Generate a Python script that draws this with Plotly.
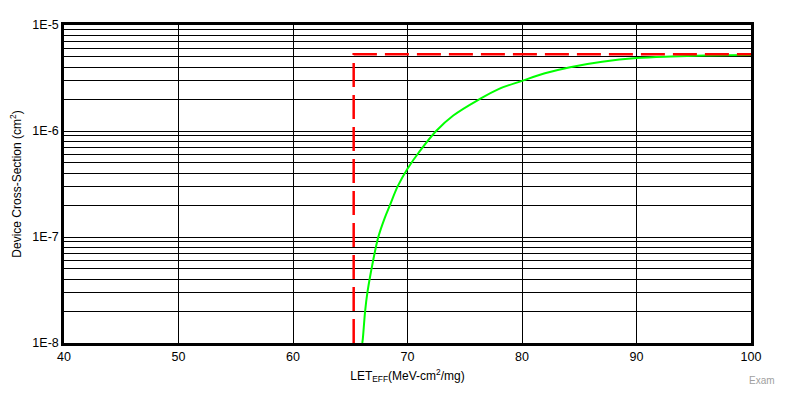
import plotly.graph_objects as go

# Data
weibull_x = [66.05, 66.1, 66.3, 66.5, 67.0, 67.45, 68.0, 68.47, 69.14, 70.0, 71.0, 72.5,
             74.0, 76.3, 78.0, 80.0, 82.0, 84.2, 87.0, 90.0, 93.0, 96.0, 100.0]
weibull_y = [1.0e-8, 1.1e-8, 2e-8, 3e-8, 6e-8, 1e-7, 1.5e-7, 2e-7, 3e-7, 4.4e-7, 6.3e-7, 1e-6,
             1.4e-6, 2e-6, 2.5e-6, 2.97e-6, 3.5e-6, 4e-6, 4.5e-6, 4.88e-6, 5.05e-6, 5.15e-6, 5.2e-6]

limit_x = [65.3, 65.3, 100.0]
limit_y = [1e-8, 5.3e-6, 5.3e-6]

x_ticks = [40, 50, 60, 70, 80, 90, 100]
y_major = [1e-8, 1e-7, 1e-6, 1e-5]
y_major_labels = ["1E-8", "1E-7", "1E-6", "1E-5"]

y_grid = []
y_text = []
for d in range(-8, -5 + 1):
    for m in range(1, 10):
        v = m * 10.0 ** d
        if v > 1.0001e-5:
            break
        y_grid.append(v)
        y_text.append(y_major_labels[y_major.index(v)] if m == 1 else "")

fig = go.Figure()
fig.add_trace(go.Scatter(x=weibull_x, y=weibull_y, mode="lines",
                         line=dict(color="#00ff00", width=2, shape="spline"),
                         showlegend=False, hoverinfo="skip"))
fig.add_trace(go.Scatter(x=limit_x, y=limit_y, mode="lines",
                         line=dict(color="#ff0000", width=2.5, dash="24px,8px"),
                         showlegend=False, hoverinfo="skip"))

font = "Liberation Sans, Arial, sans-serif"
fig.update_layout(
    width=789, height=405,
    margin=dict(l=64, r=38, t=25, b=62),
    paper_bgcolor="white", plot_bgcolor="white",
    font=dict(family=font, size=12, color="black"),
    xaxis=dict(range=[40, 100], tickvals=x_ticks, ticktext=[str(v) for v in x_ticks],
               showgrid=True, gridcolor="black", gridwidth=1,
               showline=True, linecolor="black", linewidth=2.5, mirror=True,
               ticks="", zeroline=False, tickfont=dict(size=12.5),
               title=dict(text="LET<sub>EFF</sub>(MeV-cm<sup>2</sup>/mg)", standoff=9,
                          font=dict(size=12))),
    yaxis=dict(type="log", range=[-8, -5], tickvals=y_grid, ticktext=y_text,
               showgrid=True, gridcolor="black", gridwidth=1,
               showline=True, linecolor="black", linewidth=2.5, mirror=True,
               ticks="", zeroline=False, tickfont=dict(size=12.5),
               title=dict(text="Device Cross-Section (cm<sup>2</sup>)", standoff=9,
                          font=dict(size=12))),
)
fig.add_annotation(text="Exam", xref="paper", yref="paper", x=1.0, y=-0.095,
                   xanchor="left", yanchor="top", xshift=-4, showarrow=False,
                   font=dict(size=10, color="#a0a0a0", family=font))

fig.write_html("out.html")
